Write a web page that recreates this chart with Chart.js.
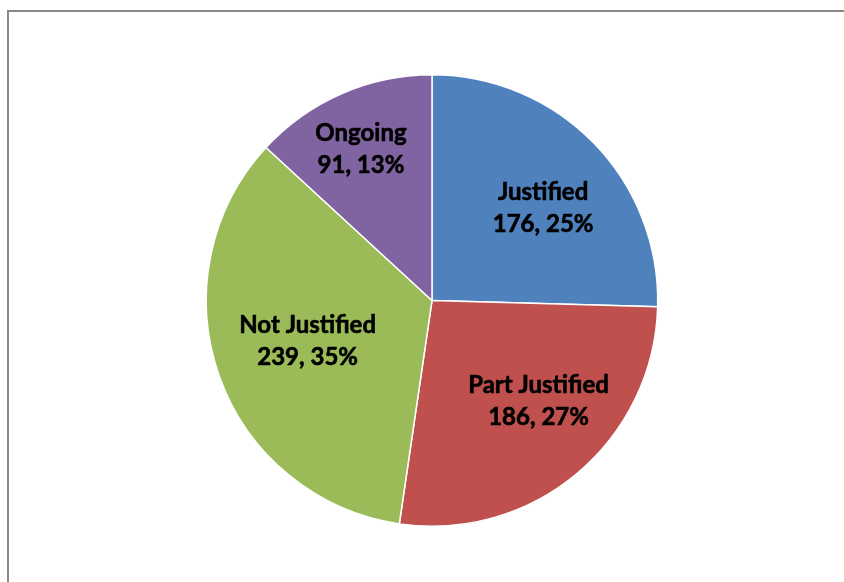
<!DOCTYPE html>
<html>
<head>
<meta charset="utf-8">
<script src="https://cdn.jsdelivr.net/npm/chart.js@4"></script>
<style>
  html, body { margin: 0; padding: 0; background: #fff; }
  #wrap { position: relative; width: 844px; height: 582px; }
</style>
</head>
<body>
<div id="wrap"><canvas id="c" width="844" height="582"></canvas></div>
<script>
const categories = ["Justified", "Part Justified", "Not Justified", "Ongoing"];
const counts = [176, 186, 239, 91];
const percents = [25, 27, 35, 13];
const colors = ["#4F81BD", "#C0504D", "#9BBB59", "#8064A2"];
// how far out along each slice's middle the label sits (fraction of radius)
const labelFrac = [0.64, 0.65, 0.58, 0.74];
const labelTurn = [4.5, -6.5, 1.3, -1.5]; // degrees nudged from the mid-angle

// frame: only left and top edges show inside the picture
const framePlugin = {
  id: "frame",
  beforeDraw(chart) {
    const ctx = chart.ctx;
    ctx.save();
    ctx.strokeStyle = "#898989";
    ctx.lineWidth = 2;
    ctx.beginPath();
    ctx.moveTo(8, 600);
    ctx.lineTo(8, 11);
    ctx.lineTo(850, 11);
    ctx.stroke();
    ctx.restore();
  }
};

const labelPlugin = {
  id: "sliceLabels",
  afterDatasetsDraw(chart) {
    const ctx = chart.ctx;
    const arcs = chart.getDatasetMeta(0).data;
    ctx.save();
    ctx.font = "bold 24px Lato, 'Open Sans', sans-serif";
    ctx.fillStyle = "#000";
    ctx.textAlign = "center";
    ctx.textBaseline = "middle";
    arcs.forEach((a, i) => {
      const mid = (a.startAngle + a.endAngle) / 2 + labelTurn[i] * Math.PI / 180;
      const r = a.outerRadius * labelFrac[i];
      const x = a.x + Math.cos(mid) * r;
      const y = a.y + Math.sin(mid) * r;
      // fake a heavier weight with a thin stroke, Calibri bold is darker than Lato bold
      ctx.strokeStyle = "#000";
      ctx.lineWidth = 0.6;
      [[categories[i], y - 16], [counts[i] + ", " + percents[i] + "%", y + 16]].forEach(([t, ty]) => {
        ctx.fillText(t, x, ty);
        ctx.strokeText(t, x, ty);
      });
    });
    ctx.restore();
  }
};

new Chart(document.getElementById("c"), {
  type: "pie",
  data: {
    labels: categories,
    datasets: [{
      data: counts,
      backgroundColor: colors,
      borderColor: "#fff",
      borderWidth: 1.5,
      hoverOffset: 0
    }]
  },
  options: {
    responsive: false,
    animation: false,
    layout: { padding: { left: 20, right: 0, top: 74, bottom: 55 } },
    plugins: { legend: { display: false }, tooltip: { enabled: false } }
  },
  plugins: [framePlugin, labelPlugin]
});
</script>
</body>
</html>
